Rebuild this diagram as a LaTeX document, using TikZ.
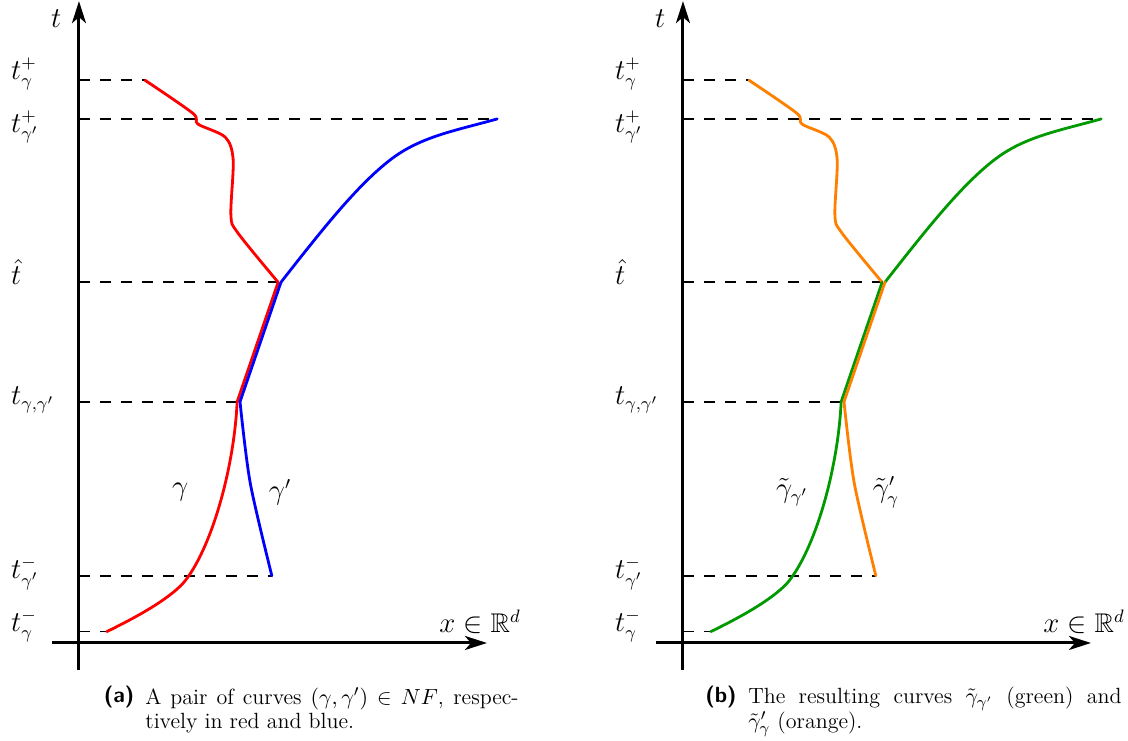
\documentclass[tikz,border=0pt]{standalone}
\usepackage{amsmath,amssymb}
\usetikzlibrary{arrows.meta}
\definecolor{darkgreen}{rgb}{0,0.6,0}
\tikzset{
  axis/.style={line width=1.5pt,-{Stealth[length=11pt,width=7pt,inset=3pt]}},
  guide/.style={line width=0.8pt,dash pattern=on 5.5pt off 5pt},
  curve/.style={line width=1.4pt,line cap=round,line join=round},
  lab/.style={font=\fontsize{13.5}{15}\selectfont,inner sep=0pt},
  capt/.style={text width=6.56cm,align=justify,inner sep=0pt,font=\fontsize{11}{12.2}\selectfont},
  tag/.style={font=\fontsize{11}{12.2}\selectfont\sffamily\bfseries,inner sep=0pt},
}

\begin{document}
\begin{tikzpicture}
\useasboundingbox (-1.388,-1.705) rectangle (18.436,11.300);
% both panels: same curves, other colours and labels
\foreach \i/\dx/\ca/\cb/\cl/\cr/\la/\lb in {a/0/red/blue/red/blue/{$\gamma$}/{$\gamma'$},
    b/10.615/orange/darkgreen/darkgreen/orange/{$\tilde\gamma_{\gamma'}$}/{$\tilde\gamma'_\gamma$}}{
\begin{scope}[xshift=\dx cm]
\coordinate (o\i) at (0,0);
\draw[axis] (0,-0.475) -- (0,11.28);
\draw[axis] (-0.475,0) -- (7.17,0);
\node[lab] (t\i) at (-0.40,10.97) {$t$};
\node[lab] (x\i) at (7.05,0.37) {$x\in\mathbb{R}^d$};
% end points and corners of the curves
\coordinate (sa\i) at (1.16,9.89);
\coordinate (sb\i) at (7.35,9.21);
\coordinate (ha\i) at (3.50,6.34);
\coordinate (hb\i) at (3.55,6.34);
\coordinate (ma\i) at (2.78,4.24);
\coordinate (mb\i) at (2.83,4.24);
\coordinate (ea\i) at (0.49,0.20);
\coordinate (eb\i) at (3.39,1.18);
% time levels
\foreach \p in {sa,sb,ha,ma,ea,eb}
  {\draw[guide] (\p\i -| o\i) -- (\p\i);}
\node[lab,anchor=west] (l1\i) at (-1.2,10.0) {$t^+_\gamma$};
\node[lab,anchor=west] (l2\i) at (-1.2,9.07) {$t^+_{\gamma'}$};
\node[lab,anchor=west] (l3\i) at (-1.2,6.52) {$\hat t$};
\node[lab,anchor=west] (l4\i) at (-1.2,4.27) {$t_{\gamma,\gamma'}$};
\node[lab,anchor=west] (l5\i) at (-1.2,1.23) {$t^-_{\gamma'}$};
\node[lab,anchor=west] (l6\i) at (-1.2,0.30) {$t^-_\gamma$};
% curves
\draw[curve,\ca] plot[smooth] coordinates {(sa\i) (2.00,9.31) (2.09,9.12) (2.57,8.89)
  (2.71,8.49) (2.67,7.52) (2.79,7.21) (ha\i)};
\draw[curve,\cb] (hb\i) .. controls (4.3,7.3) and (4.9,8.05) .. (5.47,8.49)
  .. controls (6.0,8.9) and (6.6,9.0) .. (sb\i);
\draw[curve,\cl] (ha\i) -- (ma\i);
\draw[curve,\cr] (hb\i) -- (mb\i);
\draw[curve,\cl] (ma\i) .. controls (2.72,3.0) and (2.3,1.6) .. (1.83,1.05)
  .. controls (1.55,0.75) and (1.0,0.45) .. (ea\i);
\draw[curve,\cr] plot[smooth] coordinates {(mb\i) (3.01,2.81) (eb\i)};
\node[lab,anchor=west] (ga\i) at (1.63,2.65) {\la};
\node[lab,anchor=west] (gb\i) at (3.33,2.65) {\lb};
\end{scope}}
% captions
\node[tag,anchor=base east] (taga) at (0.98,-1.04) {(a)};
\node[capt,anchor=north west] (capa) at (1.16,-0.773)
  {A pair of curves $(\gamma,\gamma')\in NF$, respectively in red and blue.};
\node[tag,anchor=base east] (tagb) at (11.565,-1.04) {(b)};
\node[capt,anchor=north west] (capb) at (11.755,-0.773)
  {The resulting curves $\tilde\gamma_{\gamma'}$ (green) and\linebreak $\tilde\gamma'_\gamma$ (orange).};
\end{tikzpicture}
\end{document}
